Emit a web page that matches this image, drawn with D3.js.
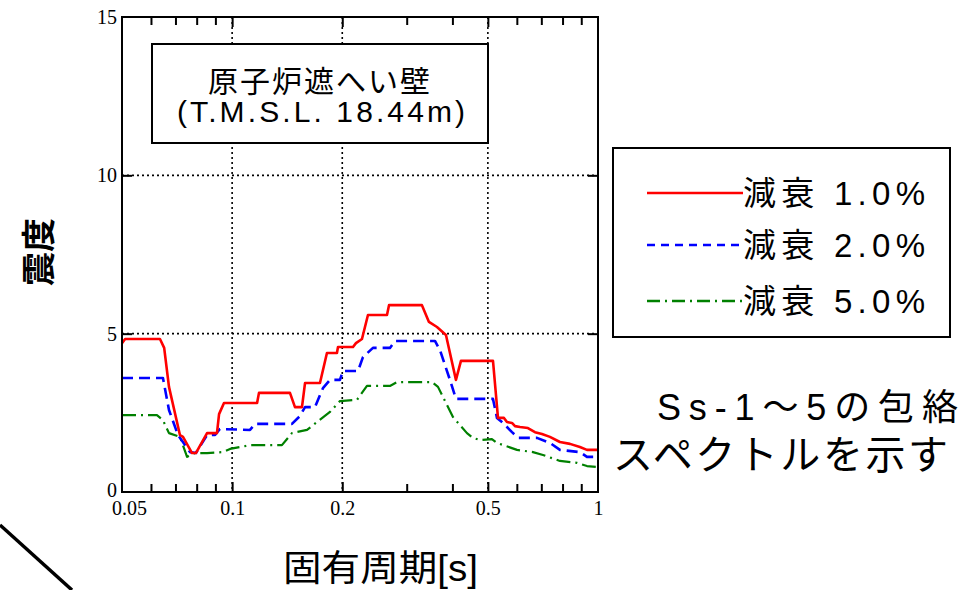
<!DOCTYPE html>
<html><head><meta charset="utf-8">
<script src="https://cdn.jsdelivr.net/npm/d3@7"></script>
<style>body{margin:0;background:#fff;} svg{display:block;}</style>
</head><body>
<svg id="c" width="979" height="590"></svg>
<script>
// ---- data ----
const periods1 = [0.05,0.051,0.0635,0.0652,0.0672,0.0720,0.0734,0.0777,0.0796,0.0854,0.0909,0.0921,0.0950,0.1170,0.1184,0.1439,0.1485,0.1552,0.1582,0.1738,0.1816,0.1934,0.1947,0.2140,0.2180,0.2264,0.2351,0.2650,0.2684,0.3302,0.3451,0.3630,0.3841,0.4090,0.4221,0.5164,0.5329,0.5533,0.5639,0.5820,0.5931,0.6120,0.6434,0.6725,0.7029,0.7389,0.7870,0.8383,0.8925,0.9329,1.0];
const damp1 = [4.70,4.83,4.83,4.55,3.32,1.80,1.74,1.23,1.23,1.86,1.86,2.46,2.81,2.81,3.13,3.13,2.68,2.68,3.44,3.44,4.39,4.39,4.58,4.58,4.70,4.83,5.59,5.59,5.90,5.90,5.37,5.21,4.96,3.54,4.14,4.14,2.34,2.34,2.21,2.18,2.08,2.05,2.02,1.89,1.83,1.74,1.58,1.52,1.42,1.33,1.33];
const periods2 = [0.05,0.0647,0.0672,0.0711,0.0767,0.0796,0.0854,0.0898,0.0926,0.1119,0.1155,0.1457,0.1532,0.1582,0.1684,0.1771,0.1851,0.1971,0.2009,0.2208,0.2278,0.2426,0.2700,0.2787,0.3584,0.3699,0.3939,0.4090,0.5164,0.5295,0.5500,0.5820,0.6044,0.6810,0.7389,0.7870,0.8925,0.9329,1.0];
const damp2 = [3.60,3.60,2.59,1.80,1.26,1.23,1.80,1.80,1.99,1.96,2.15,2.15,2.40,2.68,2.68,3.28,3.54,3.54,3.82,3.82,4.26,4.55,4.55,4.77,4.77,4.48,3.54,2.94,2.94,2.34,2.18,1.89,1.71,1.71,1.55,1.33,1.26,1.11,1.11];
const periods5 = [0.05,0.0623,0.0647,0.0672,0.0720,0.0753,0.0791,0.0854,0.0944,0.0987,0.1119,0.1368,0.1457,0.1602,0.1851,0.1971,0.2194,0.2336,0.2700,0.2823,0.3517,0.3653,0.4014,0.4384,0.4552,0.4758,0.5129,0.5295,0.6006,0.6641,0.7073,0.7870,0.8760,0.9329,1.0];
const damp5 = [2.43,2.43,2.27,1.86,1.74,1.11,1.23,1.23,1.26,1.36,1.48,1.48,1.86,1.96,2.53,2.87,2.91,3.35,3.35,3.47,3.47,3.32,2.37,1.86,1.71,1.64,1.67,1.55,1.33,1.26,1.17,0.98,0.92,0.82,0.79];

const seriesNames = ["減衰 1.0%","減衰 2.0%","減衰 5.0%"];
const xTickLabels = ["0.05","0.1","0.2","0.5","1"];
const xTickValues = [0.05,0.1,0.2,0.5,1];
const xMinorTicks = [0.06,0.07,0.08,0.09,0.3,0.4,0.6,0.7,0.8,0.9];
const xGridValues = [0.1,0.2,0.5];
const yTickValues = [0,5,10,15];
const yGridValues = [5,10];
const titleLines = ["原子炉遮へい壁","(T.M.S.L. 18.44m)"];
const noteLines = ["Ss-1～5の包絡","スペクトルを示す"];
const xTitle = "固有周期[s]";
const yTitle = "震度";

// ---- drawing ----
const svg = d3.select("#c");
const L=122, R=598, T=17, B=492;
const x = d3.scaleLog().domain([0.05,1]).range([L,R]);
const y = d3.scaleLinear().domain([0,15]).range([B,T]);
const serif = "'Liberation Serif','Times New Roman',serif";
const sans = "'Liberation Sans',Arial,'Noto Sans CJK JP',sans-serif";

// grid
const grid = svg.append("g").attr("stroke","#000").attr("stroke-width",1.6).attr("stroke-dasharray","2,3");
grid.selectAll("line.gx").data(xGridValues).join("line")
  .attr("x1",d=>x(d)).attr("x2",d=>x(d)).attr("y1",T).attr("y2",B);
grid.selectAll("line.gy").data(yGridValues).join("line")
  .attr("x1",L).attr("x2",R).attr("y1",d=>y(d)).attr("y2",d=>y(d));

// ticks (inward) on all sides
function tickAxis(axis, transform, vals, size){
  const g = svg.append("g").attr("transform",transform)
    .call(axis.tickValues(vals).tickSize(size).tickFormat(""));
  g.select(".domain").remove();
  g.selectAll("line").attr("stroke","#000").attr("stroke-width",2);
  return g;
}
tickAxis(d3.axisBottom(x), `translate(0,${B})`, xMinorTicks, -8);
tickAxis(d3.axisBottom(x), `translate(0,${B})`, xGridValues, -10);
tickAxis(d3.axisTop(x), `translate(0,${T})`, xMinorTicks, -8);
tickAxis(d3.axisTop(x), `translate(0,${T})`, xGridValues, -10);
tickAxis(d3.axisLeft(y), `translate(${L},0)`, yGridValues, -10);
tickAxis(d3.axisRight(y), `translate(${R},0)`, yGridValues, -10);

// tick labels
const xl = svg.append("g").attr("transform",`translate(0,${B})`)
  .call(d3.axisBottom(x).tickValues(xTickValues).tickSize(0).tickPadding(9)
        .tickFormat((d,i)=>xTickLabels[i]));
xl.select(".domain").remove();
xl.selectAll("text").attr("font-family",serif).attr("font-size",20).attr("fill","#000")
  .attr("dx",(d,i)=>i===0?7:0);
const yl = svg.append("g").attr("transform",`translate(${L},0)`)
  .call(d3.axisLeft(y).tickValues(yTickValues).tickSize(0).tickPadding(5));
yl.select(".domain").remove();
yl.selectAll("text").attr("font-family",serif).attr("font-size",20).attr("fill","#000")
  .attr("dy",(d,i)=>i===0?"0.2em":"0.32em");

// clip + curves
svg.append("clipPath").attr("id","clp").append("rect").attr("x",L).attr("y",T).attr("width",R-L).attr("height",B-T);
const line = d3.line().x(d=>x(d[0])).y(d=>y(d[1]));
const series = [
  {p:periods1, v:damp1, color:"#ff0000", dash:null, w:2.6, ldash:null},
  {p:periods2, v:damp2, color:"#0000ff", dash:"11,6", w:2.6, ldash:"8,6"},
  {p:periods5, v:damp5, color:"#008000", dash:"14,5,2,5", w:2.2, ldash:"13,5,2,5"}
];
const cg = svg.append("g").attr("clip-path","url(#clp)");
series.slice().reverse().forEach(s=>{
  cg.append("path").datum(s.p.map((p,i)=>[p,s.v[i]]))
    .attr("d",line).attr("fill","none").attr("stroke",s.color)
    .attr("stroke-width",s.w).attr("stroke-dasharray",s.dash)
    .attr("stroke-linejoin","round");
});

// frame
svg.append("rect").attr("x",L).attr("y",T).attr("width",R-L).attr("height",B-T)
  .attr("fill","none").attr("stroke","#000").attr("stroke-width",2);

// title box
svg.append("rect").attr("x",152).attr("y",44).attr("width",336).attr("height",99)
  .attr("fill","#fff").attr("stroke","#000").attr("stroke-width",2);
svg.append("text").attr("x",208).attr("y",92).attr("font-family",sans).attr("font-size",30)
  .attr("textLength",222).attr("lengthAdjust","spacing").text(titleLines[0]);
svg.append("text").attr("x",177).attr("y",122).attr("font-family",sans).attr("font-size",30)
  .attr("textLength",288).attr("lengthAdjust","spacing").text(titleLines[1]);

// legend
svg.append("rect").attr("x",613).attr("y",148).attr("width",337).attr("height",189)
  .attr("fill","#fff").attr("stroke","#000").attr("stroke-width",2);
const ly = [193,245,301];
series.forEach((s,i)=>{
  svg.append("line").attr("x1",647).attr("x2",743).attr("y1",ly[i]).attr("y2",ly[i])
    .attr("stroke",s.color).attr("stroke-width",2.4).attr("stroke-dasharray",s.ldash);
  svg.append("text").attr("x",743).attr("y",ly[i]+12).attr("font-family",sans).attr("font-size",33)
    .attr("textLength",182).attr("lengthAdjust","spacing").text(seriesNames[i]);
});

// note
svg.append("text").attr("x",657).attr("y",420).attr("font-family",sans).attr("font-size",36)
  .attr("textLength",301).attr("lengthAdjust","spacing").text(noteLines[0]);
svg.append("text").attr("x",613).attr("y",469).attr("font-family",sans).attr("font-size",40)
  .attr("textLength",335).attr("lengthAdjust","spacing").text(noteLines[1]);

// axis titles
svg.append("text").attr("x",283).attr("y",581)
  .attr("font-family",sans).attr("font-size",36)
  .attr("textLength",195).attr("lengthAdjust","spacingAndGlyphs").text(xTitle);
svg.append("text").attr("transform","translate(51,252) rotate(-90)").attr("text-anchor","middle")
  .attr("font-family",sans).attr("font-size",34).attr("font-weight","bold").text(yTitle);

// decorative leader line
svg.append("line").attr("x1",0).attr("y1",525).attr("x2",72).attr("y2",590)
  .attr("stroke","#000").attr("stroke-width",3.5);
</script>
</body></html>
